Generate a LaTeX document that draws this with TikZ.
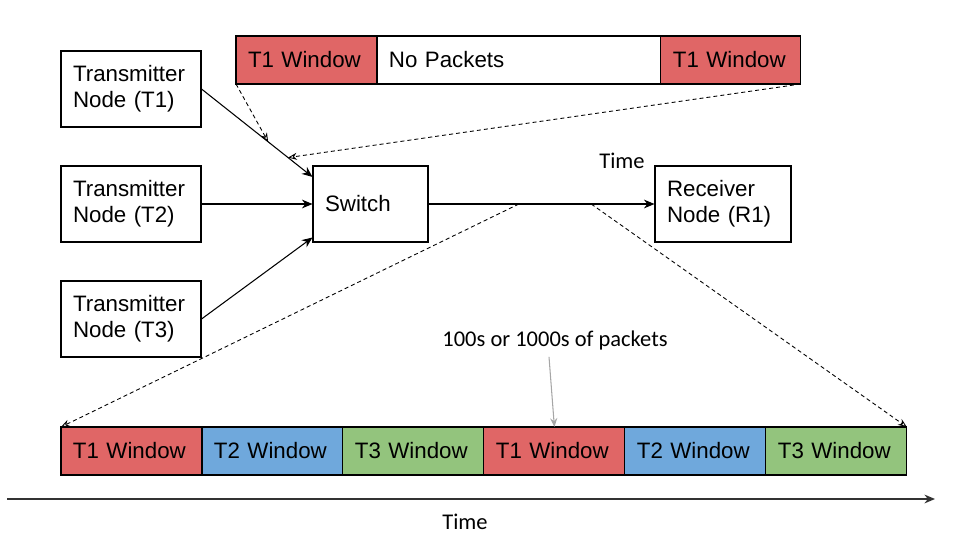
\documentclass[tikz,border=0pt]{standalone}
\usepackage{fontspec}
\setmainfont{Liberation Sans}
\newfontfamily\calfont{Carlito}
\usetikzlibrary{arrows.meta, positioning, calc}
\definecolor{winred}{HTML}{E06666}
\definecolor{winblue}{HTML}{6FA8DC}
\definecolor{wingreen}{HTML}{93C47D}

\begin{document}
\begin{tikzpicture}[x=0.02cm, y=-0.02cm,
    every node/.style={font=\fontsize{12.7}{14.8}\selectfont},
    nodebox/.style={draw, line width=0.6pt, minimum height=1.52cm, inner xsep=0.24cm, align=left},
    winseg/.style={draw, line width=0.6pt, fill=#1, outer sep=0pt, minimum height=0.96cm, text width=2.34cm, inner xsep=0.24cm, align=left},
    link/.style={-{Stealth[length=6pt, width=5pt]}, line width=0.6pt},
    dashlink/.style={-{Stealth[length=5pt, width=4pt, open]}, line width=0.5pt, dash pattern=on 2.3pt off 1.7pt},
    note/.style={font=\calfont\fontsize{12.8}{14}\selectfont}]
    \useasboundingbox (0,0) rectangle (953,534);
    % nodes on the left and the switch
    \node[nodebox, text width=2.32cm] (t1) at (131,89) {Transmitter\\Node (T1)};
    \node[nodebox, text width=2.32cm] (t2) at (131,204) {Transmitter\\Node (T2)};
    \node[nodebox, text width=2.32cm] (t3) at (131,319) {Transmitter\\Node (T3)};
    \node[nodebox, text width=1.82cm] (sw) at (370.5,204) {Switch};
    \node[nodebox, text width=2.24cm] (rx) at (723,204) {Receiver\\Node (R1)};
    \draw[link] (t1.east) -- coordinate[pos=0.6] (hitA) coordinate[pos=0.78] (hitB) (sw.155);
    \draw[link] (t2.east) -- (sw.west);
    \draw[link] (t3.east) -- (sw.210);
    \draw[link] (sw.east) -- coordinate[pos=0.4] (zl) coordinate[pos=0.72] (zr) (rx.west);
    \node[note] (tlabel) at (622,161) {Time};
    % top bar: one transmitter only
    \node[winseg=winred, anchor=north west] (ta) at (236,36) {T1 Window};
    \node[winseg=white, text width=5.2cm, right=0pt of ta] (tb) {No Packets};
    \node[winseg=winred, text width=2.32cm, right=0pt of tb] (tc) {T1 Window};
    \draw[dashlink] (ta.south west) -- (hitA);
    \draw[dashlink] (tc.south east) -- (hitB);
    % bottom bar: all three
    \node[winseg=winred, anchor=north west] (b1) at (61,427) {T1 Window};
    \node[winseg=winblue, right=0pt of b1] (b2) {T2 Window};
    \node[winseg=wingreen, right=0pt of b2] (b3) {T3 Window};
    \node[winseg=winred, right=0pt of b3] (b4) {T1 Window};
    \node[winseg=winblue, right=0pt of b4] (b5) {T2 Window};
    \node[winseg=wingreen, right=0pt of b5] (b6) {T3 Window};
    \draw[dashlink] (zl) -- (b1.north west);
    \draw[dashlink] (zr) -- (b6.north east);
    \node[note] (pk) at (555,341) {100s or 1000s of packets};
    \draw[-{Stealth[length=5pt, width=4pt]}, gray!70, line width=0.6pt] ([xshift=-0.12cm]pk.south) -- (b4.north);
    % time axis
    \coordinate (ax0) at (7,499);
    \coordinate (ax1) at (935,499);
    \draw[-{Stealth[length=6pt, width=5pt]}, black!80, line width=0.9pt] (ax0) -- (ax1);
    \node[note] (tm) at (465,522) {Time};
\end{tikzpicture}
\end{document}
